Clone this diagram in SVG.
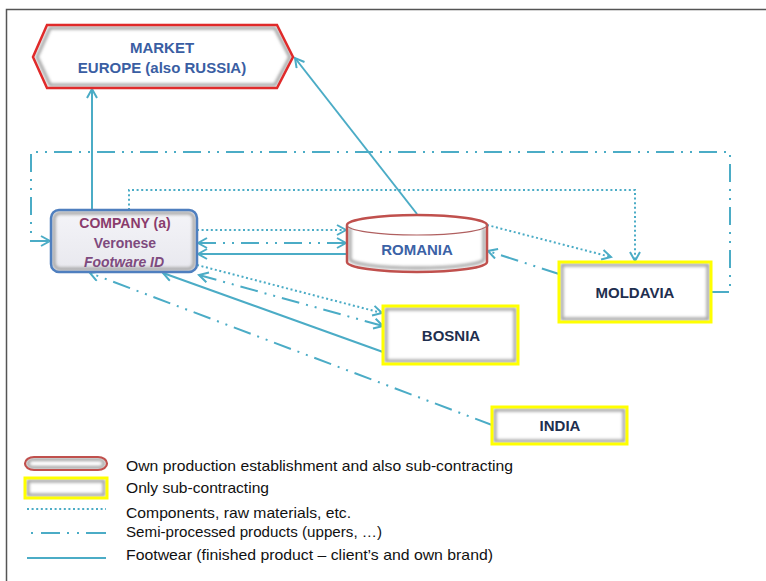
<svg xmlns="http://www.w3.org/2000/svg" width="766" height="581" viewBox="0 0 766 581">
<style>
  .ln{fill:none;stroke:#4bacc6;stroke-width:2}
  .dot{stroke-dasharray:2 2.6}
  .dd{stroke-dasharray:18 7 2 7 2 7}
  .lbl{font-family:"Liberation Sans",Arial,sans-serif;font-weight:bold;text-anchor:middle}
  .leg{font-family:"Liberation Sans",Arial,sans-serif;font-size:15px;fill:#111}
  .ys{fill:none;stroke:#ffff00;stroke-width:3}
  .shade{fill:none;stroke:#a0a0a0;stroke-width:3;filter:url(#bl)}
</style>
<defs>
  <filter id="bl" x="-10%" y="-10%" width="120%" height="120%"><feGaussianBlur stdDeviation="1.4"/></filter>
  <marker id="ah" viewBox="0 0 12 12" refX="10" refY="6" markerWidth="12" markerHeight="12" markerUnits="userSpaceOnUse" orient="auto-start-reverse">
    <path d="M1,1 L10,6 L1,11" fill="none" stroke="#4bacc6" stroke-width="2"/>
  </marker>
  <linearGradient id="cg" x1="0" y1="0" x2="0" y2="1"><stop offset="0" stop-color="#f4f4f8"/><stop offset="1" stop-color="#e8e8ee"/></linearGradient>
</defs>
<rect width="766" height="581" fill="#ffffff"/>
<path d="M6.5,581 V9.5 H766" fill="none" stroke="#555" stroke-width="1.5"/>

<g id="connectors">
  <path class="ln" d="M92,210 V89" marker-end="url(#ah)"/>
  <path class="ln" d="M417,214 L295,58" marker-end="url(#ah)"/>
  <path class="ln dd" d="M711,292 H730 V152 H31 V241 H50" marker-end="url(#ah)"/>
  <path class="ln dot" d="M129,210 V190 H635 V261" marker-end="url(#ah)"/>
  <path class="ln dot" d="M197,230 H346" marker-end="url(#ah)"/>
  <path class="ln dd" d="M198,243 H346" marker-start="url(#ah)" marker-end="url(#ah)"/>
  <path class="ln" d="M347,254 H198" marker-end="url(#ah)"/>
  <path class="ln dot" d="M487,225 L611,257" marker-end="url(#ah)"/>
  <path class="ln dd" d="M559,274 L488,251" marker-end="url(#ah)"/>
  <path class="ln dot" d="M197,265 L382,313" marker-end="url(#ah)"/>
  <path class="ln dd" d="M199,275 L383,326" marker-start="url(#ah)" marker-end="url(#ah)"/>
  <path class="ln" d="M383,352 L163,273" marker-end="url(#ah)"/>
  <path class="ln dd" d="M492,425 L90,273" marker-end="url(#ah)"/>
</g>

<g id="market">
  <path d="M47,25 H277 L293,57 L277,88 H47 L33,57 Z" fill="#ffffff"/>
  <path d="M50,28 H275 L290,57 L275,85 H50 L37,57 Z" class="shade" stroke="#c8c8cc"/>
  <path d="M47,25 H277 L293,57 L277,88 H47 L33,57 Z" fill="none" stroke="#e02a2a" stroke-width="2.5"/>
  <text class="lbl" x="162" y="53" font-size="15" fill="#3a5ea3">MARKET</text>
  <text class="lbl" x="162" y="73" font-size="15" fill="#3a5ea3">EUROPE (also RUSSIA)</text>
</g>

<g id="company">
  <rect x="51" y="210" width="146" height="62" rx="8" fill="url(#cg)"/>
  <rect x="54" y="213" width="140" height="56" rx="6" class="shade" stroke="#c4c4cc"/>
  <rect x="51" y="210" width="146" height="62" rx="8" fill="none" stroke="#4f7fbf" stroke-width="2.5"/>
  <text class="lbl" x="125" y="228" font-size="14" fill="#8a3c6c">COMPANY (a)</text>
  <text class="lbl" x="125" y="248" font-size="14" fill="#7e4a7e">Veronese</text>
  <text class="lbl" x="124" y="267" font-size="14" font-style="italic" fill="#7e4a7e">Footware ID</text>
</g>

<g id="romania">
  <path d="M347,225 A70,10 0 0,1 487,225 V262 A70,10 0 0,1 347,262 Z" fill="#ffffff"/>
  <path d="M350,228 V259 A67,9 0 0,0 484,259 V228" class="shade" stroke="#c8c8cc"/>
  <path d="M347,225 A70,10 0 0,1 487,225 V262 A70,10 0 0,1 347,262 Z" fill="none" stroke="#c0504d" stroke-width="2.5"/>
  <path d="M347,225 A70,10 0 0,0 487,225" fill="none" stroke="#b06060" stroke-width="1.2"/>
  <text class="lbl" x="417" y="255" font-size="15" fill="#3b62a6">ROMANIA</text>
</g>

<g id="moldavia">
  <rect x="559" y="262" width="152" height="60" fill="#ffffff"/>
  <rect x="562" y="265" width="146" height="54" class="shade"/>
  <rect x="559" y="262" width="152" height="60" class="ys"/>
  <text class="lbl" x="635" y="298" font-size="15" fill="#1f2f4f">MOLDAVIA</text>
</g>

<g id="bosnia">
  <rect x="383" y="306" width="135" height="58" fill="#ffffff"/>
  <rect x="386" y="309" width="129" height="52" class="shade"/>
  <rect x="383" y="306" width="135" height="58" class="ys"/>
  <text class="lbl" x="451" y="341" font-size="15" fill="#1f2f4f">BOSNIA</text>
</g>

<g id="india">
  <rect x="492" y="407" width="135" height="37" fill="#ffffff"/>
  <rect x="495" y="410" width="129" height="31" class="shade"/>
  <rect x="492" y="407" width="135" height="37" class="ys"/>
  <text class="lbl" x="560" y="431" font-size="15" fill="#1f2f4f">INDIA</text>
</g>

<g id="legend">
  <rect x="25" y="457" width="82" height="13" rx="9" ry="6.5" fill="#ffffff"/>
  <rect x="28" y="459.5" width="76" height="8" rx="5" ry="4" class="shade" stroke="#b0b0b0"/>
  <rect x="25" y="457" width="82" height="13" rx="9" ry="6.5" fill="none" stroke="#c0504d" stroke-width="2.2"/>
  <rect x="25" y="478" width="82" height="20" fill="#ffffff"/>
  <rect x="28" y="481" width="76" height="14" class="shade"/>
  <rect x="25" y="478" width="82" height="20" class="ys" stroke-width="2.5"/>
  <path class="ln dot" d="M27,509 H106"/>
  <path class="ln" d="M31,533 H33 M41,533 H60 M67,533 H69 M77,533 H79 M86,533 H106"/>
  <path class="ln" d="M27,558 H106"/>
  <text class="leg" x="126" y="471" textLength="387" lengthAdjust="spacingAndGlyphs">Own production establishment and also sub-contracting</text>
  <text class="leg" x="126" y="493" textLength="143" lengthAdjust="spacingAndGlyphs">Only sub-contracting</text>
  <text class="leg" x="126" y="518" textLength="225" lengthAdjust="spacingAndGlyphs">Components, raw materials, etc.</text>
  <text class="leg" x="126" y="537" textLength="256" lengthAdjust="spacingAndGlyphs">Semi-processed products (uppers, …)</text>
  <text class="leg" x="126" y="560" textLength="367" lengthAdjust="spacingAndGlyphs">Footwear (finished product – client’s and own brand)</text>
</g>
</svg>
